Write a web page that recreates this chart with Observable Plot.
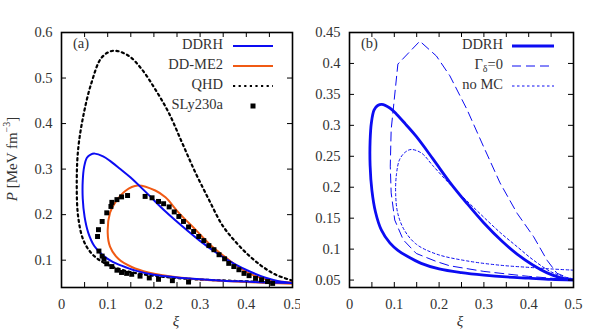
<!DOCTYPE html>
<html>
<head>
<meta charset="utf-8">
<script src="https://cdn.jsdelivr.net/npm/d3@7"></script>
<script src="https://cdn.jsdelivr.net/npm/@observablehq/plot@0.6"></script>
<style>
  html, body { margin: 0; padding: 0; background: white; }
  #wrap { width: 600px; height: 336px; display: flex; position: relative; }
  #wrap svg { display: block; }
  #wrap svg text, #wrap svg tspan { font-family: "Liberation Serif", serif; }
</style>
</head>
<body>
<div id="wrap"></div>
<script>
// ---------- data (ξ, P) ----------
const ddrhXi = [0.5,0.45,0.40,0.35,0.30,0.25,0.20,0.16,0.13,0.108,0.09,0.071,0.058,0.050,0.046,0.046,0.049,0.055,0.063,0.072,0.09,0.105,0.125,0.149,0.187,0.224,0.262,0.299,0.34,0.374,0.41,0.44,0.47,0.5];
const ddrhP  = [0.050,0.051,0.053,0.055,0.058,0.062,0.068,0.077,0.088,0.098,0.110,0.131,0.160,0.195,0.235,0.275,0.305,0.325,0.332,0.334,0.328,0.318,0.302,0.282,0.245,0.208,0.174,0.143,0.113,0.092,0.074,0.062,0.054,0.050];

const dme2Xi = [0.5,0.45,0.40,0.326,0.254,0.188,0.152,0.123,0.105,0.100,0.105,0.116,0.138,0.165,0.203,0.225,0.254,0.290,0.326,0.362,0.399,0.435,0.471,0.5];
const dme2P  = [0.048,0.050,0.052,0.056,0.062,0.073,0.085,0.103,0.130,0.160,0.204,0.226,0.252,0.264,0.253,0.238,0.204,0.167,0.130,0.101,0.075,0.060,0.053,0.051];

const qhdXi = [0.5,0.435,0.362,0.290,0.217,0.145,0.094,0.065,0.047,0.036,0.033,0.036,0.047,0.065,0.087,0.112,0.145,0.174,0.203,0.232,0.261,0.290,0.319,0.348,0.377,0.406,0.435,0.464,0.5];
const qhdP  = [0.050,0.052,0.055,0.058,0.064,0.075,0.093,0.115,0.145,0.196,0.270,0.343,0.416,0.490,0.545,0.560,0.549,0.519,0.475,0.424,0.358,0.292,0.233,0.177,0.140,0.110,0.086,0.068,0.055];

const slyXi = [0.078,0.080,0.088,0.098,0.107,0.109,0.120,0.130,0.143,
  0.181,0.196,0.210,0.221,0.233,0.244,0.254,0.264,0.275,0.286,0.297,0.308,0.319,0.330,0.341,0.353,0.362,0.373,0.384,0.395,0.406,0.420,0.433,0.446,0.457,
  0.081,0.088,0.092,0.098,0.109,0.120,0.130,0.141,0.152,0.170,0.190,0.210,0.240,0.275];
const slyP = [0.152,0.167,0.185,0.204,0.218,0.227,0.233,0.239,0.242,
  0.240,0.237,0.229,0.224,0.217,0.206,0.196,0.185,0.173,0.163,0.152,0.143,0.132,0.123,0.112,0.103,0.093,0.086,0.079,0.071,0.066,0.060,0.057,0.053,0.049,
  0.120,0.109,0.102,0.092,0.086,0.078,0.073,0.071,0.069,0.065,0.061,0.058,0.055,0.052];

const gdXi = [0.5,0.45,0.40,0.374,0.30,0.224,0.194,0.149,0.12,0.101,0.093,0.091,0.093,0.108,0.157,0.194,0.224,0.262,0.299,0.336,0.374,0.411,0.441,0.463,0.5];
const gdP  = [0.050,0.053,0.056,0.058,0.064,0.073,0.080,0.093,0.115,0.147,0.191,0.234,0.293,0.399,0.436,0.412,0.380,0.326,0.266,0.207,0.158,0.120,0.082,0.061,0.050];

const nomcXi = [0.5,0.45,0.411,0.336,0.262,0.194,0.149,0.123,0.108,0.103,0.105,0.112,0.125,0.138,0.161,0.187,0.224,0.262,0.299,0.336,0.374,0.411,0.448,0.475,0.5];
const nomcP  = [0.066,0.068,0.070,0.074,0.081,0.092,0.108,0.130,0.157,0.190,0.222,0.245,0.257,0.261,0.255,0.234,0.205,0.178,0.152,0.127,0.104,0.082,0.064,0.056,0.052];

const xTickLabels = [0, 0.1, 0.2, 0.3, 0.4, 0.5];
const xTicks = [0.05, 0.1, 0.15, 0.2, 0.25, 0.3, 0.35, 0.4, 0.45];
const yTicksA = [0.1, 0.2, 0.3, 0.4, 0.5, 0.6];
const yTicksB = [0.05, 0.1, 0.15, 0.2, 0.25, 0.3, 0.35, 0.4, 0.45];

const BLUE = "#0c0cf2", ORANGE = "#f05a14", TXT = "#333";
const zip = (xs, ys) => xs.map((x, i) => ({x, y: ys[i]}));

const font = "'Liberation Serif', serif";
const style = {fontFamily: font, fontSize: "14.5px", color: TXT, background: "white", overflow: "visible"};

function frameMarks(yTicks, plotW, plotH) {
  return [
    Plot.ruleX(xTicks, {x: d => d, insetTop: plotH - 5, stroke: "black", strokeWidth: 1}),
    Plot.ruleX(xTicks, {x: d => d, insetBottom: plotH - 5, stroke: "black", strokeWidth: 1}),
    Plot.ruleY(yTicks, {y: d => d, insetRight: plotW - 5, stroke: "black", strokeWidth: 1}),
    Plot.ruleY(yTicks, {y: d => d, insetLeft: plotW - 5, stroke: "black", strokeWidth: 1}),
    Plot.axisX({ticks: xTickLabels, tickSize: 0, tickPadding: 11, tickFormat: d => String(d), label: null, fill: TXT}),
    Plot.axisY({ticks: yTicks, tickSize: 0, tickPadding: 9, tickFormat: d => String(d), label: null, fill: TXT}),
    Plot.frame({stroke: "black", strokeWidth: 1.6})
  ];
}

// ---------- panel (a) ----------
const mA = {l: 61, r: 8, t: 32, b: 49};
const plotA = Plot.plot({
  width: 300, height: 336,
  marginLeft: mA.l, marginRight: mA.r, marginTop: mA.t, marginBottom: mA.b,
  x: {domain: [0, 0.5]},
  y: {domain: [0.04, 0.6]},
  style,
  marks: [
    Plot.line(zip(qhdXi, qhdP), {x: "x", y: "y", curve: "catmull-rom", stroke: "black", strokeWidth: 2.2, strokeDasharray: "2.2 3.4", clip: true}),
    Plot.line(zip(dme2Xi, dme2P), {x: "x", y: "y", curve: "catmull-rom", stroke: ORANGE, strokeWidth: 2, clip: true}),
    Plot.line(zip(ddrhXi, ddrhP), {x: "x", y: "y", curve: "catmull-rom", stroke: BLUE, strokeWidth: 2, clip: true}),
    Plot.dot(zip(slyXi, slyP), {x: "x", y: "y", symbol: "square", r: 2.8, fill: "black", stroke: "none"}),
    ...frameMarks(yTicksA, 300 - mA.l - mA.r, 336 - mA.t - mA.b)
  ]
});

// ---------- panel (b) ----------
const mB = {l: 49, r: 27, t: 32, b: 49};
const plotB = Plot.plot({
  width: 300, height: 336,
  marginLeft: mB.l, marginRight: mB.r, marginTop: mB.t, marginBottom: mB.b,
  x: {domain: [0, 0.5]},
  y: {domain: [0.038, 0.45]},
  style,
  marks: [
    Plot.line(zip(gdXi, gdP), {x: "x", y: "y", curve: "linear", stroke: BLUE, strokeWidth: 1, strokeDasharray: "9 5", clip: true}),
    Plot.line(zip(nomcXi, nomcP), {x: "x", y: "y", curve: "catmull-rom", stroke: BLUE, strokeWidth: 1, strokeDasharray: "2.5 2.5", clip: true}),
    Plot.line(zip(ddrhXi, ddrhP), {x: "x", y: "y", curve: "catmull-rom", stroke: BLUE, strokeWidth: 2.8, clip: true}),
    ...frameMarks(yTicksB, 300 - mB.l - mB.r, 336 - mB.t - mB.b)
  ]
});

const wrap = document.getElementById("wrap");
wrap.appendChild(plotA);
wrap.appendChild(plotB);

// ---------- annotations & legends ----------
function addText(svg, x, y, anchor, parts, opts = {}) {
  const t = d3.select(svg).append("text")
    .attr("x", x).attr("y", y)
    .attr("text-anchor", anchor)
    .attr("dominant-baseline", "middle")
    .attr("font-size", opts.size || 14.5)
    .attr("fill", TXT);
  if (opts.transform) t.attr("transform", opts.transform).attr("x", 0).attr("y", 0);
  for (const p of parts) {
    const s = t.append("tspan").text(p.t);
    if (p.italic) s.attr("font-style", "italic");
    if (p.size) s.attr("font-size", p.size);
    if (p.dy) s.attr("dy", p.dy);
  }
  return t;
}
function addSample(svg, x1, x2, y, stroke, width, dash) {
  d3.select(svg).append("line")
    .attr("x1", x1).attr("x2", x2).attr("y1", y).attr("y2", y)
    .attr("stroke", stroke).attr("stroke-width", width)
    .attr("stroke-dasharray", dash || null);
}

// panel a
addText(plotA, 73, 45, "start", [{t: "(a)"}]);
const legA = [
  {name: "DDRH", stroke: BLUE, w: 2},
  {name: "DD-ME2", stroke: ORANGE, w: 2},
  {name: "QHD", stroke: "black", w: 2.2, dash: "2.2 3.4"},
  {name: "SLy230a", square: true}
];
legA.forEach((d, i) => {
  const y = 46 + i * 20;
  addText(plotA, 223, y, "end", [{t: d.name}]);
  if (d.square) {
    d3.select(plotA).append("rect").attr("x", 250.5).attr("y", y - 2.5).attr("width", 5).attr("height", 5).attr("fill", "black");
  } else addSample(plotA, 233, 273, y, d.stroke, d.w, d.dash);
});
addText(plotA, 176, 323, "middle", [{t: "ξ", italic: true}], {size: 15});
addText(plotA, 0, 0, "middle",
  [{t: "P", italic: true}, {t: " [MeV fm"}, {t: "−3", size: 10, dy: -6}, {t: "]", dy: 6}],
  {size: 15, transform: "translate(14,159) rotate(-90)"});

// panel b
addText(plotB, 61, 45, "start", [{t: "(b)"}]);
addText(plotB, 203, 46, "end", [{t: "DDRH"}]);
addSample(plotB, 212, 254, 46, BLUE, 2.8);
addText(plotB, 203, 66, "end", [{t: "Γ"}, {t: "δ", size: 10, dy: 4}, {t: "=0", dy: -4}]);
addSample(plotB, 212, 254, 66, BLUE, 1, "9 5");
addText(plotB, 203, 86, "end", [{t: "no MC"}]);
addSample(plotB, 212, 254, 86, BLUE, 1, "2.5 2.5");
addText(plotB, 160, 323, "middle", [{t: "ξ", italic: true}], {size: 15});
</script>
</body>
</html>
